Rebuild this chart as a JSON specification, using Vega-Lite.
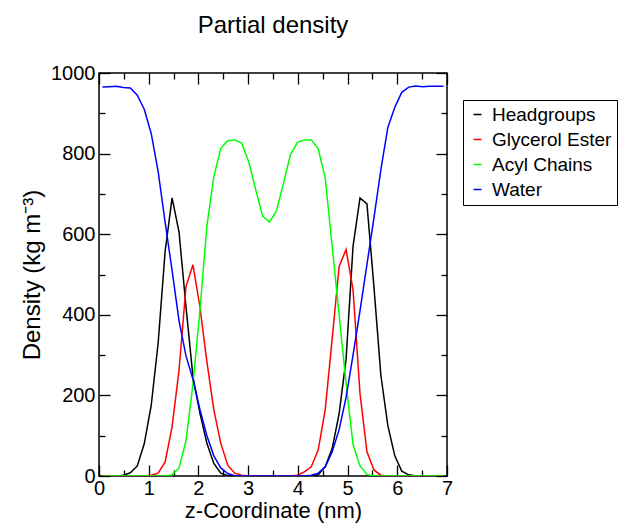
{
  "$schema": "https://vega.github.io/schema/vega-lite/v6.json",
  "width": 348,
  "height": 403,
  "autosize": {"type": "none"},
  "padding": {"left": 99, "top": 73, "right": 176, "bottom": 47},
  "background": "white",
  "config": {
    "font": "Liberation Sans",
    "view": {"stroke": "black", "strokeWidth": 1.5},
    "axis": {"domain": false, "grid": false, "tickColor": "black", "tickWidth": 1.3, "labelColor": "black", "titleColor": "black", "titleFontWeight": "normal"}
  },
  "title": {"text": "Partial density", "fontSize": 24, "fontWeight": "normal", "color": "black", "offset": 25, "anchor": "middle"},
  "data": {"values": [
    {"z":0.07,"Headgroups":0,"Glycerol Ester":0,"Acyl Chains":0,"Water":965},
    {"z":0.21,"Headgroups":0,"Glycerol Ester":0,"Acyl Chains":0,"Water":966},
    {"z":0.35,"Headgroups":0,"Glycerol Ester":0,"Acyl Chains":0,"Water":967},
    {"z":0.49,"Headgroups":2,"Glycerol Ester":0,"Acyl Chains":0,"Water":964},
    {"z":0.63,"Headgroups":8,"Glycerol Ester":0,"Acyl Chains":0,"Water":963},
    {"z":0.77,"Headgroups":25,"Glycerol Ester":0,"Acyl Chains":0,"Water":945},
    {"z":0.91,"Headgroups":80,"Glycerol Ester":0,"Acyl Chains":0,"Water":910},
    {"z":1.05,"Headgroups":175,"Glycerol Ester":2,"Acyl Chains":0,"Water":850},
    {"z":1.19,"Headgroups":330,"Glycerol Ester":7,"Acyl Chains":0,"Water":755},
    {"z":1.33,"Headgroups":557,"Glycerol Ester":35,"Acyl Chains":0,"Water":630},
    {"z":1.47,"Headgroups":690,"Glycerol Ester":122,"Acyl Chains":3,"Water":510},
    {"z":1.61,"Headgroups":605,"Glycerol Ester":263,"Acyl Chains":20,"Water":385},
    {"z":1.75,"Headgroups":420,"Glycerol Ester":470,"Acyl Chains":88,"Water":298},
    {"z":1.89,"Headgroups":246,"Glycerol Ester":524,"Acyl Chains":228,"Water":240},
    {"z":2.03,"Headgroups":156,"Glycerol Ester":420,"Acyl Chains":410,"Water":165},
    {"z":2.17,"Headgroups":81,"Glycerol Ester":284,"Acyl Chains":620,"Water":100},
    {"z":2.31,"Headgroups":31,"Glycerol Ester":164,"Acyl Chains":743,"Water":50},
    {"z":2.45,"Headgroups":7,"Glycerol Ester":81,"Acyl Chains":813,"Water":20},
    {"z":2.59,"Headgroups":1,"Glycerol Ester":27,"Acyl Chains":832,"Water":6},
    {"z":2.73,"Headgroups":0,"Glycerol Ester":7,"Acyl Chains":834,"Water":1},
    {"z":2.87,"Headgroups":0,"Glycerol Ester":2,"Acyl Chains":826,"Water":0},
    {"z":3.01,"Headgroups":0,"Glycerol Ester":0,"Acyl Chains":780,"Water":0},
    {"z":3.15,"Headgroups":0,"Glycerol Ester":0,"Acyl Chains":712,"Water":0},
    {"z":3.29,"Headgroups":0,"Glycerol Ester":0,"Acyl Chains":645,"Water":0},
    {"z":3.43,"Headgroups":0,"Glycerol Ester":0,"Acyl Chains":630,"Water":0},
    {"z":3.57,"Headgroups":0,"Glycerol Ester":0,"Acyl Chains":658,"Water":0},
    {"z":3.71,"Headgroups":0,"Glycerol Ester":0,"Acyl Chains":726,"Water":0},
    {"z":3.85,"Headgroups":0,"Glycerol Ester":0,"Acyl Chains":797,"Water":0},
    {"z":3.99,"Headgroups":0,"Glycerol Ester":2,"Acyl Chains":828,"Water":0},
    {"z":4.13,"Headgroups":0,"Glycerol Ester":10,"Acyl Chains":834,"Water":0},
    {"z":4.27,"Headgroups":0,"Glycerol Ester":23,"Acyl Chains":834,"Water":2},
    {"z":4.41,"Headgroups":3,"Glycerol Ester":65,"Acyl Chains":812,"Water":7},
    {"z":4.55,"Headgroups":23,"Glycerol Ester":164,"Acyl Chains":740,"Water":22},
    {"z":4.69,"Headgroups":68,"Glycerol Ester":340,"Acyl Chains":570,"Water":60},
    {"z":4.83,"Headgroups":155,"Glycerol Ester":520,"Acyl Chains":400,"Water":115},
    {"z":4.97,"Headgroups":290,"Glycerol Ester":562,"Acyl Chains":230,"Water":195},
    {"z":5.11,"Headgroups":570,"Glycerol Ester":462,"Acyl Chains":78,"Water":300},
    {"z":5.25,"Headgroups":690,"Glycerol Ester":205,"Acyl Chains":25,"Water":410},
    {"z":5.39,"Headgroups":675,"Glycerol Ester":60,"Acyl Chains":4,"Water":525},
    {"z":5.53,"Headgroups":470,"Glycerol Ester":15,"Acyl Chains":0,"Water":640},
    {"z":5.67,"Headgroups":250,"Glycerol Ester":2,"Acyl Chains":0,"Water":760},
    {"z":5.81,"Headgroups":125,"Glycerol Ester":0,"Acyl Chains":0,"Water":865},
    {"z":5.95,"Headgroups":50,"Glycerol Ester":0,"Acyl Chains":0,"Water":915},
    {"z":6.09,"Headgroups":12,"Glycerol Ester":0,"Acyl Chains":0,"Water":952},
    {"z":6.23,"Headgroups":3,"Glycerol Ester":0,"Acyl Chains":0,"Water":965},
    {"z":6.37,"Headgroups":0,"Glycerol Ester":0,"Acyl Chains":0,"Water":968},
    {"z":6.51,"Headgroups":0,"Glycerol Ester":0,"Acyl Chains":0,"Water":966},
    {"z":6.65,"Headgroups":0,"Glycerol Ester":0,"Acyl Chains":0,"Water":967},
    {"z":6.79,"Headgroups":0,"Glycerol Ester":0,"Acyl Chains":0,"Water":967},
    {"z":6.93,"Headgroups":0,"Glycerol Ester":0,"Acyl Chains":0,"Water":967}
  ]},
  "transform": [{"fold": ["Headgroups", "Glycerol Ester", "Acyl Chains", "Water"], "as": ["series", "density"]}],
  "layer": [
    {
      "mark": {"type": "line", "strokeWidth": 1.5, "clip": true},
      "encoding": {
        "x": {"field": "z", "type": "quantitative", "scale": {"domain": [0, 7], "nice": false, "zero": false},
              "axis": {"orient": "bottom", "values": [0,1,2,3,4,5,6,7], "format": "d", "tickSize": -11, "labelPadding": 13, "labelFontSize": 20, "labelFlush": false, "labelOverlap": false,
                       "title": "z-Coordinate (nm)", "titleFontSize": 22, "titlePadding": 2}},
        "y": {"field": "density", "type": "quantitative", "scale": {"domain": [0, 1000], "nice": false},
              "axis": {"orient": "left", "values": [0,200,400,600,800,1000], "format": "d", "tickSize": -11, "labelPadding": 15, "labelFontSize": 20, "labelFlush": false, "labelOverlap": false,
                       "title": "Density (kg m⁻³)", "titleFontSize": 24, "titlePadding": 6}},
        "color": {"field": "series", "type": "nominal",
                  "scale": {"domain": ["Headgroups", "Glycerol Ester", "Acyl Chains", "Water"], "range": ["#000000", "#ff0000", "#00ff00", "#0000ff"]},
                  "legend": {"orient": "none", "legendX": 364, "legendY": 27, "title": null, "symbolType": "stroke", "symbolSize": 64, "symbolStrokeWidth": 1.5,
                             "labelFontSize": 19, "labelColor": "black", "labelOffset": 5, "rowPadding": 5, "padding": 5,
                             "strokeColor": "black", "fillColor": "white", "cornerRadius": 0}},
        "order": {"field": "z", "type": "quantitative"}
      }
    },
    {
      "mark": {"type": "point", "opacity": 0},
      "encoding": {
        "x": {"field": "z", "type": "quantitative", "axis": {"orient": "top", "values": [0,1,2,3,4,5,6,7], "tickSize": -11, "labels": false, "title": null}},
        "y": {"field": "density", "type": "quantitative", "axis": {"orient": "right", "values": [0,200,400,600,800,1000], "tickSize": -11, "labels": false, "title": null}}
      }
    },
    {
      "mark": {"type": "point", "opacity": 0},
      "encoding": {
        "x": {"field": "z", "type": "quantitative", "axis": {"orient": "bottom", "values": [0.5,1.5,2.5,3.5,4.5,5.5,6.5], "tickSize": -6, "labels": false, "title": null}},
        "y": {"field": "density", "type": "quantitative", "axis": {"orient": "left", "values": [100,300,500,700,900], "tickSize": -6, "labels": false, "title": null}}
      }
    },
    {
      "mark": {"type": "point", "opacity": 0},
      "encoding": {
        "x": {"field": "z", "type": "quantitative", "axis": {"orient": "top", "values": [0.5,1.5,2.5,3.5,4.5,5.5,6.5], "tickSize": -6, "labels": false, "title": null}},
        "y": {"field": "density", "type": "quantitative", "axis": {"orient": "right", "values": [100,300,500,700,900], "tickSize": -6, "labels": false, "title": null}}
      }
    }
  ],
  "resolve": {"axis": {"x": "independent", "y": "independent"}}
}
